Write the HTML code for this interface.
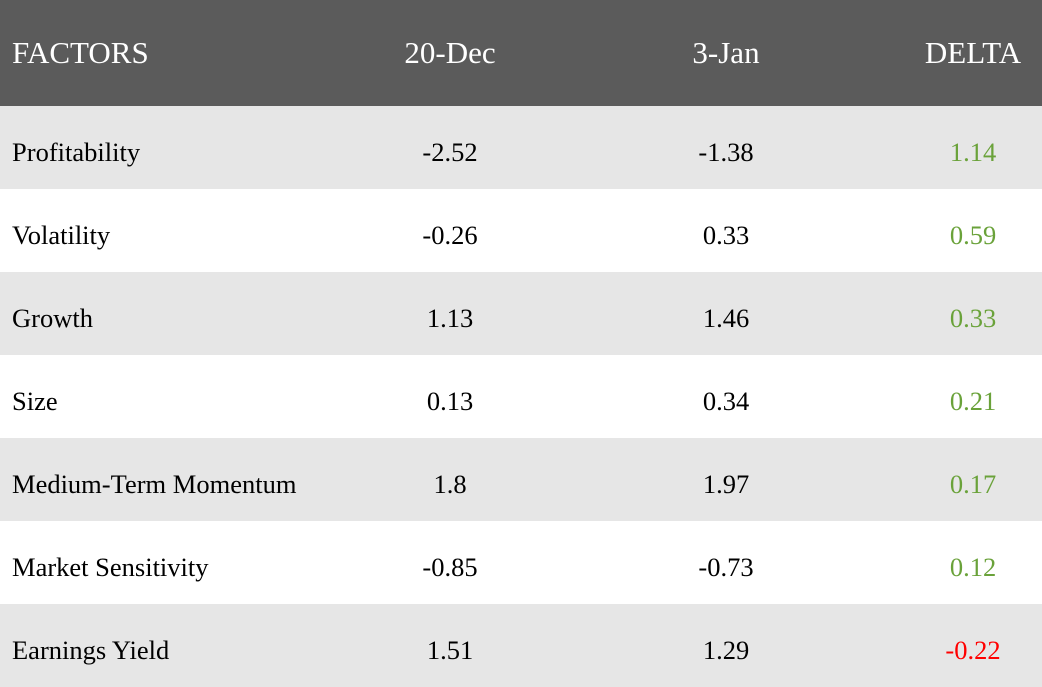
<!DOCTYPE html>
<html><head><meta charset="utf-8"><style>
html,body{margin:0;padding:0;width:1042px;height:678px;overflow:hidden;background:#fff;font-family:"Liberation Serif",serif}
.hdr{position:absolute;left:0;top:0;width:1042px;height:106px;background:#5b5b5b}
.row{position:absolute;left:0;width:1042px;height:83px}
.g{background:#e6e6e6}
.t{position:absolute;white-space:nowrap;line-height:1}
.h{color:#fff;font-size:31px;top:37px}
.b{font-size:26.5px;top:33px;color:#000}
.c{transform:translateX(-50%)}
.up{color:#6aa23a}
.dn{color:#ff0000}
</style></head><body>
<div class="hdr">
<div class="t h" style="left:12px">FACTORS</div>
<div class="t h c" style="left:450px">20-Dec</div>
<div class="t h c" style="left:726px">3-Jan</div>
<div class="t h c" style="left:973px">DELTA</div>
</div>
<div class="row g" style="top:106px"><div class="t b" style="left:12px">Profitability</div><div class="t b c" style="left:450px">-2.52</div><div class="t b c" style="left:726px">-1.38</div><div class="t b c up" style="left:973px">1.14</div></div>
<div class="row" style="top:189px"><div class="t b" style="left:12px">Volatility</div><div class="t b c" style="left:450px">-0.26</div><div class="t b c" style="left:726px">0.33</div><div class="t b c up" style="left:973px">0.59</div></div>
<div class="row g" style="top:272px"><div class="t b" style="left:12px">Growth</div><div class="t b c" style="left:450px">1.13</div><div class="t b c" style="left:726px">1.46</div><div class="t b c up" style="left:973px">0.33</div></div>
<div class="row" style="top:355px"><div class="t b" style="left:12px">Size</div><div class="t b c" style="left:450px">0.13</div><div class="t b c" style="left:726px">0.34</div><div class="t b c up" style="left:973px">0.21</div></div>
<div class="row g" style="top:438px"><div class="t b" style="left:12px">Medium-Term Momentum</div><div class="t b c" style="left:450px">1.8</div><div class="t b c" style="left:726px">1.97</div><div class="t b c up" style="left:973px">0.17</div></div>
<div class="row" style="top:521px"><div class="t b" style="left:12px">Market Sensitivity</div><div class="t b c" style="left:450px">-0.85</div><div class="t b c" style="left:726px">-0.73</div><div class="t b c up" style="left:973px">0.12</div></div>
<div class="row g" style="top:604px"><div class="t b" style="left:12px">Earnings Yield</div><div class="t b c" style="left:450px">1.51</div><div class="t b c" style="left:726px">1.29</div><div class="t b c dn" style="left:973px">-0.22</div></div>
</body></html>
